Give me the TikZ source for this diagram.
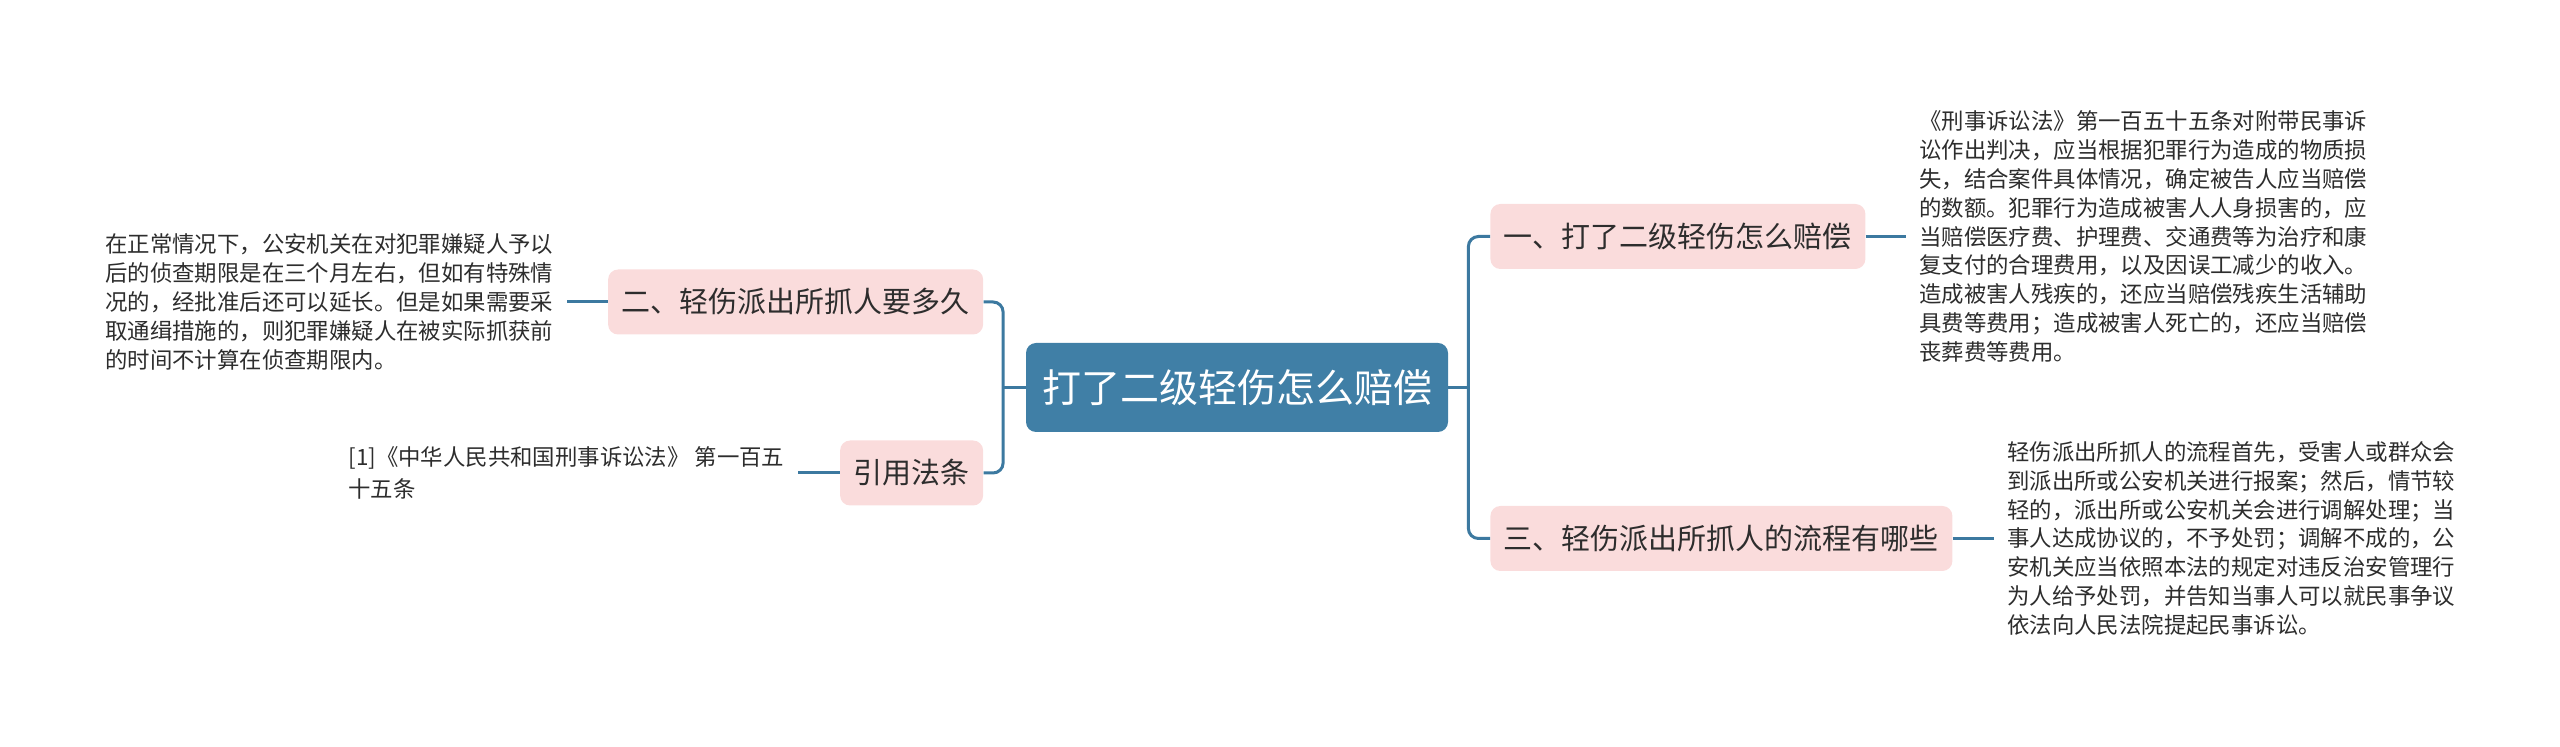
\documentclass[tikz,border=0pt]{standalone}
\usepackage{fontspec}
\newfontfamily\cjk{Noto Sans CJK SC}
\usetikzlibrary{positioning,calc}
\definecolor{mapblue}{RGB}{64,127,166}
\definecolor{linkblue}{RGB}{60,121,160}
\definecolor{subpink}{RGB}{250,220,220}
\definecolor{textgray}{RGB}{45,45,45}

\begin{document}
\begin{tikzpicture}[
        x=0.5pt, y=-0.5pt,
        mainbox/.style={rectangle, rounded corners=5pt, fill=mapblue, text=white, inner xsep=8pt, minimum height=44.5pt, font=\cjk\fontsize{19.5}{23}\selectfont},
        subbox/.style={rectangle, rounded corners=5pt, fill=subpink, text=textgray, inner xsep=6.75pt, minimum height=32.5pt, font=\cjk\fontsize{14.5}{17}\selectfont},
        note/.style={align=left, inner xsep=6.5pt, inner ysep=0pt, text=textgray, font=\cjk\fontsize{11.2}{14.4}\selectfont},
        link/.style={draw=linkblue, line width=1.5pt}
    ]
    \useasboundingbox (0,0) rectangle (2560,747);

    % Topic
    \node[mainbox] (topic) at (1237,387.5) {打了二级轻伤怎么赔偿};

    % Branches
    \node[subbox, anchor=west] (one) at (1490,236.5) {一、打了二级轻伤怎么赔偿};
    \node[subbox, anchor=west] (three) at (1490,538.5) {三、轻伤派出所抓人的流程有哪些};
    \node[subbox, anchor=east] (two) at (983.5,302) {二、轻伤派出所抓人要多久};
    \node[subbox, anchor=east] (cite) at (983.5,473) {引用法条};

    % Notes
    \node[note, right=20pt of one] (onetext) {《刑事诉讼法》第一百五十五条对附带民事诉\\讼作出判决，应当根据犯罪行为造成的物质损\\失，结合案件具体情况，确定被告人应当赔偿\\的数额。犯罪行为造成被害人人身损害的，应\\当赔偿医疗费、护理费、交通费等为治疗和康\\复支付的合理费用，以及因误工减少的收入。\\造成被害人残疾的，还应当赔偿残疾生活辅助\\具费等费用；造成被害人死亡的，还应当赔偿\\丧葬费等费用。};
    \node[note, right=20.5pt of three] (threetext) {轻伤派出所抓人的流程首先，受害人或群众会\\到派出所或公安机关进行报案；然后，情节较\\轻的，派出所或公安机关会进行调解处理；当\\事人达成协议的，不予处罚；调解不成的，公\\安机关应当依照本法的规定对违反治安管理行\\为人给予处罚，并告知当事人可以就民事争议\\依法向人民法院提起民事诉讼。};
    \node[note, left=20.5pt of two] (twotext) {在正常情况下，公安机关在对犯罪嫌疑人予以\\后的侦查期限是在三个月左右，但如有特殊情\\况的，经批准后还可以延长。但是如果需要采\\取通缉措施的，则犯罪嫌疑人在被实际抓获前\\的时间不计算在侦查期限内。};
    \node[note, left=21pt of cite, font=\cjk\fontsize{11.2}{16}\selectfont] (citetext) {[1]《中华人民共和国刑事诉讼法》 第一百五\\十五条};

    % Trunks
    \coordinate (ltrunk) at ($(topic.west)+(-11.25pt,0)$);
    \coordinate (rtrunk) at ($(topic.east)+(10pt,0)$);
    \draw[link] (topic.west) -- (ltrunk);
    \draw[link] (topic.east) -- (rtrunk);
    \draw[link, rounded corners=5pt] (two.east) -| (ltrunk) |- (cite.east);
    \draw[link, rounded corners=5pt] (one.west) -| (rtrunk) |- (three.west);

    % Note links
    \draw[link] (one.east) -- (onetext.west);
    \draw[link] (three.east) -- (threetext.west);
    \draw[link] (two.west) -- (twotext.east);
    \draw[link] (cite.west) -- (citetext.east);

\end{tikzpicture}
\end{document}
